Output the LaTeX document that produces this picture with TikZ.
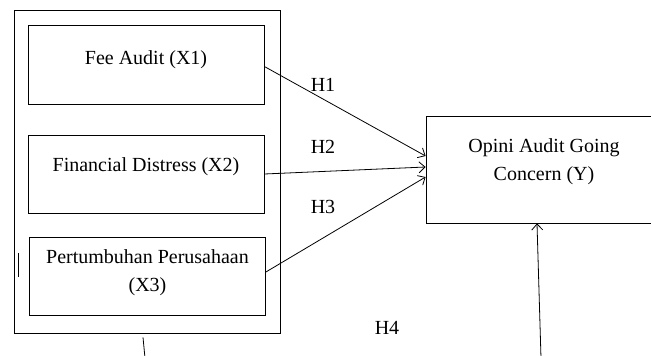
\documentclass[tikz,border=0pt]{standalone}
\usepackage{fontspec}
\setmainfont{Liberation Serif}
\usetikzlibrary{arrows.meta}

\begin{document}
\begin{tikzpicture}[x=1pt, y=-1pt, line width=0.8pt,
    >={Straight Barb[length=6pt,width=11pt]},
    every node/.style={font=\fontsize{20}{28}\selectfont},
    box/.style={draw, minimum width=236pt, inner sep=0pt}]
    % 画布
    \useasboundingbox (0,0) rectangle (651,356);
    \clip (0,0) rectangle (651,356);

    % 外框与三个变量
    \node[draw, minimum width=266pt, minimum height=323pt] (group) at (147,171.5) {};
    \node[box, minimum height=79pt, label={[yshift=4.5pt]center:Fee Audit (X1)}] (fee) at (146,64.5) {};
    \node[box, minimum height=78pt, label={[yshift=7pt]center:Financial Distress (X2)}] (fd) at (146,174) {};
    \node[box, minimum height=78pt, label={[yshift=3.5pt,align=center]center:{Pertumbuhan Perusahaan\\(X3)}}] (pp) at (147.5,276) {};
\draw (18,253) -- (18,277);

    % 因变量
    \node[box, minimum height=107pt, label={[yshift=8pt,align=center]center:{Opini Audit Going\\Concern (Y)}}] (opini) at (544,169.5) {};

    % 假设
    \draw[->] ([yshift=-2pt]fee.east) -- ([yshift=13.5pt]opini.west);
    \draw[->] (fd.east) -- ([yshift=2.5pt]opini.west);
    \draw[->] ([yshift=4pt]pp.east) -- ([yshift=-7.5pt]opini.west);
    \node (h1) at (323,85) {H1};
    \node (h2) at (323,147) {H2};
    \node (h3) at (323,207) {H3};
    \node (h4) at (387,328) {H4};

\coordinate (gb) at (145,358);
\coordinate (yb) at (541,358);
\draw ([xshift=-4pt,yshift=-4pt]group.south) -- (gb);
\draw[->] (yb) -- ([xshift=-7pt]opini.south);
\end{tikzpicture}
\end{document}
